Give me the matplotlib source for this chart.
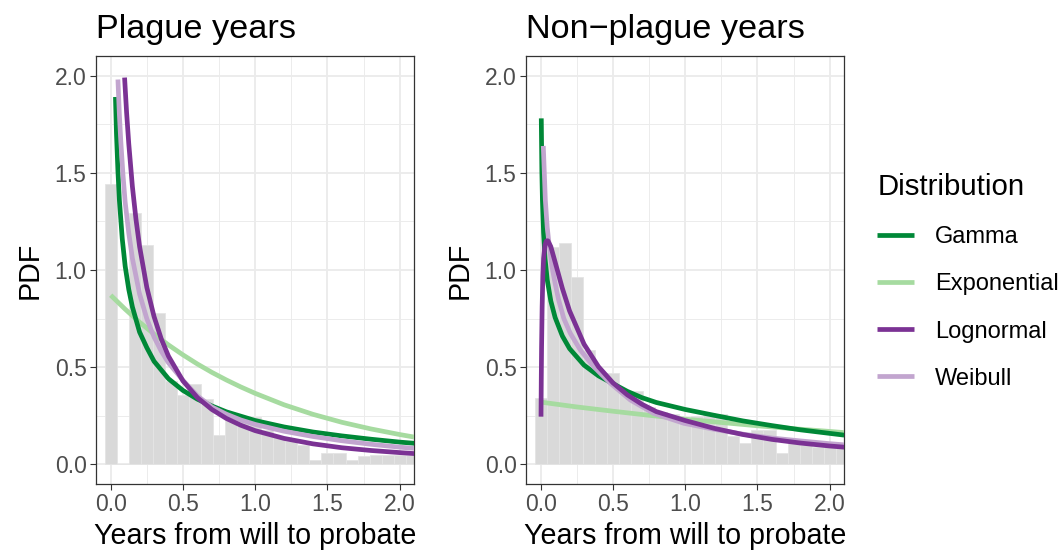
import numpy as np
import matplotlib.pyplot as plt
from matplotlib.lines import Line2D

plt.rcParams['font.family'] = ['Liberation Sans', 'DejaVu Sans']

# ────────────────────────────────────────────────────────────────
# DATA
# ────────────────────────────────────────────────────────────────
BIN_WIDTH = 1 / 12  # monthly bins, centred on 0

plague_hist = [1.443, 0.0, 1.295, 1.129, 0.777, 0.429, 0.357, 0.412, 0.336, 0.151,
               0.23, 0.24, 0.245, 0.177, 0.142, 0.12, 0.10, 0.02, 0.06, 0.06,
               0.02, 0.043, 0.048, 0.048, 0.048, 0.048]
nonplague_hist = [0.34, 1.12, 1.137, 0.962, 0.588, 0.47, 0.468, 0.366, 0.375, 0.297,
                  0.27, 0.26, 0.228, 0.25, 0.265, 0.26, 0.144, 0.108, 0.177, 0.177,
                  0.056, 0.118, 0.10, 0.09, 0.09, 0.09]

# plague years – fitted densities
pl_gamma_x = [0.033, 0.04, 0.05, 0.06, 0.08, 0.1, 0.125, 0.15, 0.2, 0.25, 0.3, 0.4,
              0.5, 0.6, 0.7, 0.8, 1.0, 1.2, 1.4, 1.6, 1.8, 2.0, 2.1]
pl_gamma_y = [1.89, 1.70, 1.51, 1.36, 1.16, 1.02, 0.90, 0.81, 0.68, 0.60, 0.53, 0.44,
              0.38, 0.335, 0.30, 0.27, 0.225, 0.192, 0.166, 0.146, 0.129, 0.114, 0.108]
pl_exp_x = [0.0, 0.1, 0.2, 0.3, 0.4, 0.5, 0.6, 0.7, 0.8, 0.9, 1.0, 1.2, 1.4, 1.6,
            1.8, 2.0, 2.1]
pl_exp_y = [0.870, 0.798, 0.731, 0.670, 0.614, 0.563, 0.516, 0.473, 0.434, 0.398,
            0.365, 0.306, 0.257, 0.216, 0.182, 0.153, 0.140]
pl_logn_x = [0.096, 0.11, 0.125, 0.15, 0.175, 0.2, 0.25, 0.3, 0.35, 0.4, 0.5, 0.6,
             0.7, 0.8, 0.9, 1.0, 1.2, 1.4, 1.6, 1.8, 2.0, 2.1]
pl_logn_y = [1.99, 1.81, 1.65, 1.43, 1.26, 1.12, 0.91, 0.76, 0.645, 0.556, 0.429,
             0.343, 0.282, 0.236, 0.201, 0.173, 0.133, 0.105, 0.085, 0.071, 0.060, 0.055]
pl_weib_x = [0.05, 0.06, 0.07, 0.085, 0.1, 0.125, 0.15, 0.2, 0.25, 0.3, 0.35, 0.4,
             0.5, 0.6, 0.7, 0.8, 0.9, 1.0, 1.2, 1.4, 1.6, 1.8, 2.0, 2.1]
pl_weib_y = [1.98, 1.80, 1.66, 1.49, 1.35, 1.19, 1.06, 0.876, 0.749, 0.655, 0.582,
             0.522, 0.432, 0.352, 0.295, 0.258, 0.228, 0.205, 0.17, 0.143, 0.121,
             0.103, 0.088, 0.082]

# non-plague years – fitted densities
np_gamma_x = [0.004, 0.008, 0.012, 0.02, 0.03, 0.045, 0.07, 0.1, 0.15, 0.2, 0.3, 0.4,
              0.5, 0.6, 0.7, 0.8, 1.0, 1.2, 1.4, 1.6, 1.8, 2.0, 2.1]
np_gamma_y = [1.78, 1.51, 1.36, 1.19, 1.06, 0.95, 0.84, 0.755, 0.66, 0.595, 0.51,
              0.455, 0.415, 0.375, 0.343, 0.318, 0.282, 0.252, 0.223, 0.199, 0.177,
              0.159, 0.150]
np_exp_x = [0.01, 0.25, 0.5, 0.75, 1.0, 1.25, 1.5, 1.75, 2.0, 2.1]
np_exp_y = [0.319, 0.295, 0.273, 0.252, 0.232, 0.215, 0.198, 0.183, 0.169, 0.163]
np_logn_x = [0.0021, 0.004, 0.006, 0.01, 0.015, 0.02, 0.03, 0.04, 0.05, 0.07, 0.1,
             0.15, 0.2, 0.3, 0.4, 0.5, 0.6, 0.7, 0.8, 1.0, 1.2, 1.4, 1.6, 1.8, 2.0, 2.1]
np_logn_y = [0.245, 0.44, 0.60, 0.81, 0.97, 1.06, 1.13, 1.15, 1.15, 1.12, 1.04,
             0.905, 0.789, 0.618, 0.502, 0.419, 0.357, 0.309, 0.271, 0.225, 0.185,
             0.153, 0.128, 0.109, 0.094, 0.088]
np_weib_x = [0.018, 0.025, 0.032, 0.045, 0.06, 0.078, 0.1, 0.124, 0.16, 0.205, 0.274,
             0.367, 0.482, 0.62, 0.782, 0.99, 1.2, 1.4, 1.6, 1.8, 2.0, 2.1]
np_weib_y = [1.638, 1.5, 1.36, 1.22, 1.12, 1.017, 0.93, 0.846, 0.75, 0.674, 0.588,
             0.502, 0.417, 0.331, 0.262, 0.211, 0.18, 0.155, 0.135, 0.12, 0.106, 0.1]

LABELS = ['Gamma', 'Exponential', 'Lognormal', 'Weibull']
COLORS = {'Gamma': '#008837', 'Exponential': '#A6DBA0',
          'Lognormal': '#7B3294', 'Weibull': '#C2A5CF'}

panels = [
    ('Plague years', plague_hist, {
        'Exponential': (pl_exp_x, pl_exp_y),
        'Gamma': (pl_gamma_x, pl_gamma_y),
        'Weibull': (pl_weib_x, pl_weib_y),
        'Lognormal': (pl_logn_x, pl_logn_y)}),
    ('Non\u2212plague years', nonplague_hist, {
        'Exponential': (np_exp_x, np_exp_y),
        'Gamma': (np_gamma_x, np_gamma_y),
        'Weibull': (np_weib_x, np_weib_y),
        'Lognormal': (np_logn_x, np_logn_y)}),
]

# ────────────────────────────────────────────────────────────────
# PLOT
# ────────────────────────────────────────────────────────────────
W, H = 1063, 556
fig = plt.figure(figsize=(W / 100, H / 100), dpi=100)

LW = 3.4
for i, (title, hist, curves) in enumerate(panels):
    left = (96.25 + 430 * i) / W
    ax = fig.add_axes([left, 72.3 / H, 317.9 / W, 427.5 / H])

    centers = np.arange(len(hist)) * BIN_WIDTH
    ax.bar(centers, hist, width=BIN_WIDTH, color='#D9D9D9',
           edgecolor='#E4E4E4', linewidth=0.6, zorder=2)

    for name, (xs, ys) in curves.items():
        ax.plot(xs, ys, color=COLORS[name], lw=LW, solid_capstyle='butt',
                solid_joinstyle='round', zorder=3)

    ax.set_xlim(-0.1, 2.1)
    ax.set_ylim(-0.1, 2.1)
    ax.set_xticks([0, 0.5, 1.0, 1.5, 2.0])
    ax.set_yticks([0, 0.5, 1.0, 1.5, 2.0])
    ax.set_xticks([0.25, 0.75, 1.25, 1.75], minor=True)
    ax.set_yticks([0.25, 0.75, 1.25, 1.75], minor=True)
    ax.xaxis.set_major_formatter(plt.FormatStrFormatter('%.1f'))
    ax.yaxis.set_major_formatter(plt.FormatStrFormatter('%.1f'))
    ax.grid(which='major', color='#EBEBEB', lw=1.3, zorder=0)
    ax.grid(which='minor', color='#EBEBEB', lw=0.65, zorder=0)
    ax.set_axisbelow(True)
    ax.tick_params(which='major', length=4, width=0.8, color='#333333',
                   labelsize=16.5, labelcolor='#4D4D4D', pad=3)
    ax.tick_params(which='minor', length=0)
    for sp in ax.spines.values():
        sp.set_color('#333333')
        sp.set_linewidth(0.9)

    ax.set_title(title, loc='left', fontsize=24.7, pad=13)
    ax.set_xlabel('Years from will to probate', fontsize=20.6, labelpad=4)
    ax.set_ylabel('PDF', fontsize=20.6, labelpad=8)

handles = [Line2D([], [], color=COLORS[n], lw=LW, solid_capstyle='butt') for n in LABELS]
leg = fig.legend(handles, LABELS, loc='upper left', bbox_to_anchor=(868 / W, 1 - 164 / H),
                 frameon=False, fontsize=17, title='Distribution', title_fontsize=21.2,
                 handlelength=1.55, handletextpad=0.9, labelspacing=1.06,
                 alignment='left', borderaxespad=0)

fig.savefig('out.png', dpi=100)
